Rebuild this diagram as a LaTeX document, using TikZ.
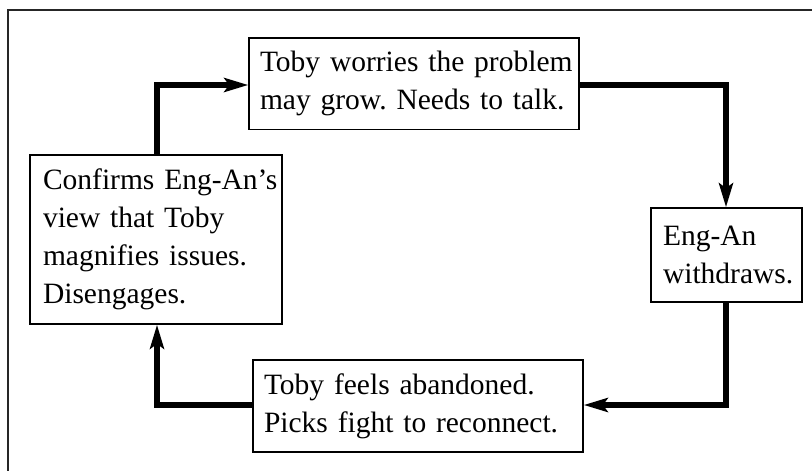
\documentclass[tikz,border=0pt]{standalone}
\usepackage{fontspec}
\setmainfont{Liberation Serif}
\frenchspacing
\usetikzlibrary{arrows.meta}
\begin{document}
\begin{tikzpicture}[x=1pt,y=-1pt,
  box/.style={draw, line width=1.5pt, align=left, inner ysep=0pt,
    font=\fontsize{29.5}{38}\selectfont},
  flow/.style={line width=6pt, line join=miter,
    -{Stealth[length=24pt,width=14pt,inset=5pt]}}]
\useasboundingbox (0,0) rectangle (812,471);
\draw[line width=1.4pt, black!85] (8,475) -- (8,10) -- (816,10);

\node[box, inner xsep=11pt, text width=308pt, minimum height=91.5pt] (top) at (414,83.5)
  {\mbox{Toby worries the problem}\\\mbox{may grow. Needs to talk.}};
\node[box, inner xsep=12pt, text width=127pt, minimum height=94pt] (right) at (726.5,255)
  {\mbox{Eng-An}\\\mbox{withdraws.}};
\node[box, inner xsep=11pt, text width=308pt, minimum height=92pt] (bottom) at (418,406)
  {\mbox{Toby feels abandoned.}\\\mbox{Picks fight to reconnect.}};
\node[box, inner xsep=13pt, text width=226pt, minimum height=169pt] (left) at (156,239.5)
  {\mbox{Confirms Eng-An’s}\\\mbox{view that Toby}\\\mbox{magnifies issues.}\\\mbox{Disengages.}};

\coordinate (c1) at (157,85);
\coordinate (c2) at (726,85);
\coordinate (c3) at (726,405);
\coordinate (c4) at (157,405);
\draw[flow] (left.north -| c1) -- (c1) -- (c1 -| top.west);
\draw[flow] (c2 -| top.east) -- (c2) -- (c2 |- right.north);
\draw[flow] (c3 |- right.south) -- (c3) -- (c3 -| bottom.east);
\draw[flow] (c4 -| bottom.west) -- (c4) -- (c4 |- left.south);
\end{tikzpicture}
\end{document}
